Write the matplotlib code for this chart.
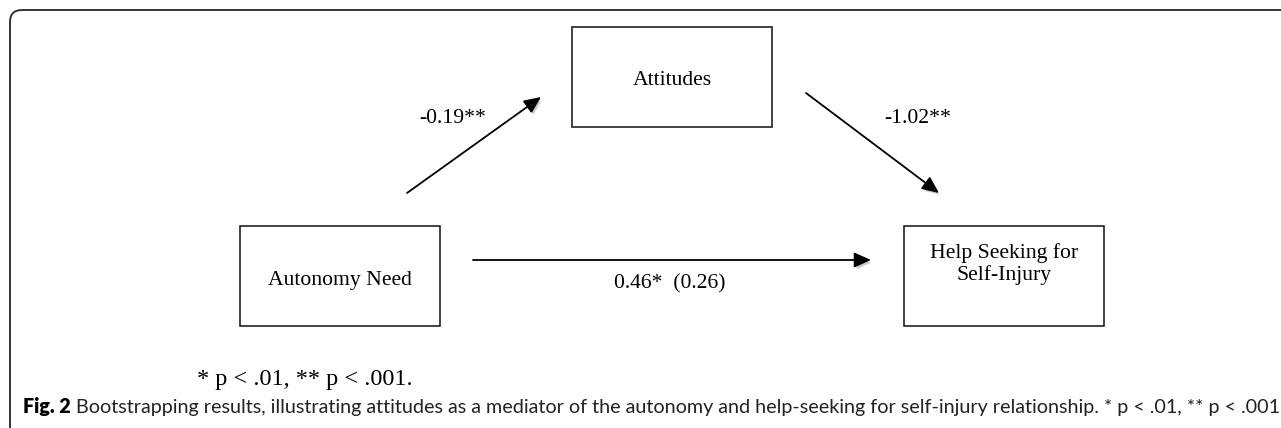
import matplotlib.pyplot as plt
from matplotlib.patches import Rectangle, FancyBboxPatch
import matplotlib.patheffects as pe

# dades del diagrama de mediacio
nodes = ["Autonomy Need", "Attitudes", "Help Seeking for\nSelf-Injury"]
coef_a = "-0.19**"
coef_b = "-1.02**"
coef_c = "0.46*  (0.26)"
nota = "* p < .01, ** p < .001."
titol_fig = "Fig. 2"
caption = (" Bootstrapping results, illustrating attitudes as a mediator of the autonomy "
           "and help-seeking for self-injury relationship. * p < .01, ** p < .001")

# posicions en pixels (x esquerra, y dalt, amplada, alcada)
caixes = {
    "Autonomy Need": (240, 226, 200, 100),
    "Attitudes": (572, 27, 200, 100),
    "Help Seeking for\nSelf-Injury": (904, 226, 200, 100),
}
fletxes = [
    ((407, 193), (541, 97)),
    ((806, 93), (939, 193)),
    ((473, 260), (871, 260)),
]

serif = "Liberation Serif"
mida = 15.6
x_peu = 23

fig = plt.figure(figsize=(12.81, 4.28), dpi=100)
ax = fig.add_axes([0, 0, 1, 1])
ax.set_xlim(0, 1281)
ax.set_ylim(428, 0)
ax.axis("off")

# marc exterior arrodonit (tallat a la dreta i a baix)
marc = FancyBboxPatch((10, 10), 1320, 460, boxstyle="round,pad=0,rounding_size=12",
                      fill=False, ec="#333333", lw=1.4)
ax.add_patch(marc)

for nom in nodes:
    x, y, w, h = caixes[nom]
    ax.add_patch(Rectangle((x, y), w, h, fill=False, ec="#222222", lw=1.2))
    if "\n" in nom:
        l1, l2 = nom.split("\n")
        ax.text(x + w / 2, y + 27, l1, ha="center", va="center", family=serif, fontsize=mida)
        ax.text(x + w / 2, y + 49, l2, ha="center", va="center", family=serif, fontsize=mida)
    else:
        ax.text(x + w / 2, y + 54 if y > 100 else y + 53, nom, ha="center", va="center",
                family=serif, fontsize=mida)

ombra = [pe.SimplePatchShadow(offset=(1.5, -2), shadow_rgbFace="#999999", alpha=0.5), pe.Normal()]
for (x0, y0), (x1, y1) in fletxes:
    ax.annotate("", xy=(x1, y1), xytext=(x0, y0),
                arrowprops=dict(arrowstyle="-|>,head_length=0.85,head_width=0.38", lw=1.3,
                                color="black", shrinkA=0, shrinkB=0, mutation_scale=12,
                                path_effects=ombra))

ax.text(453, 118, coef_a, ha="center", va="center", family=serif, fontsize=mida)
ax.text(918, 118, coef_b, ha="center", va="center", family=serif, fontsize=mida)
ax.text(670, 284, coef_c, ha="center", va="center", family=serif, fontsize=mida)
ax.text(305, 379, nota, ha="center", va="center", family=serif, fontsize=17.5)

t1 = ax.text(x_peu, 407, titol_fig, ha="left", va="center", family="Lato",
             fontweight="heavy", fontsize=13)
fig.canvas.draw()
r = fig.canvas.get_renderer()
bb = t1.get_window_extent(r)
t2 = ax.text(x_peu + bb.width, 407, caption, ha="left", va="center", family="Lato",
             fontsize=13, color="#222222")
fig.canvas.draw()
# ajustar la mida perque el peu ocupi fins a x=1276
total = bb.width + t2.get_window_extent(r).width
escala = (1276 - x_peu) / total
t1.set_fontsize(13 * escala)
fig.canvas.draw()
bb = t1.get_window_extent(r)
t2.set_fontsize(13 * escala)
t2.set_x(x_peu + bb.width)

fig.savefig("out.png", dpi=100)
